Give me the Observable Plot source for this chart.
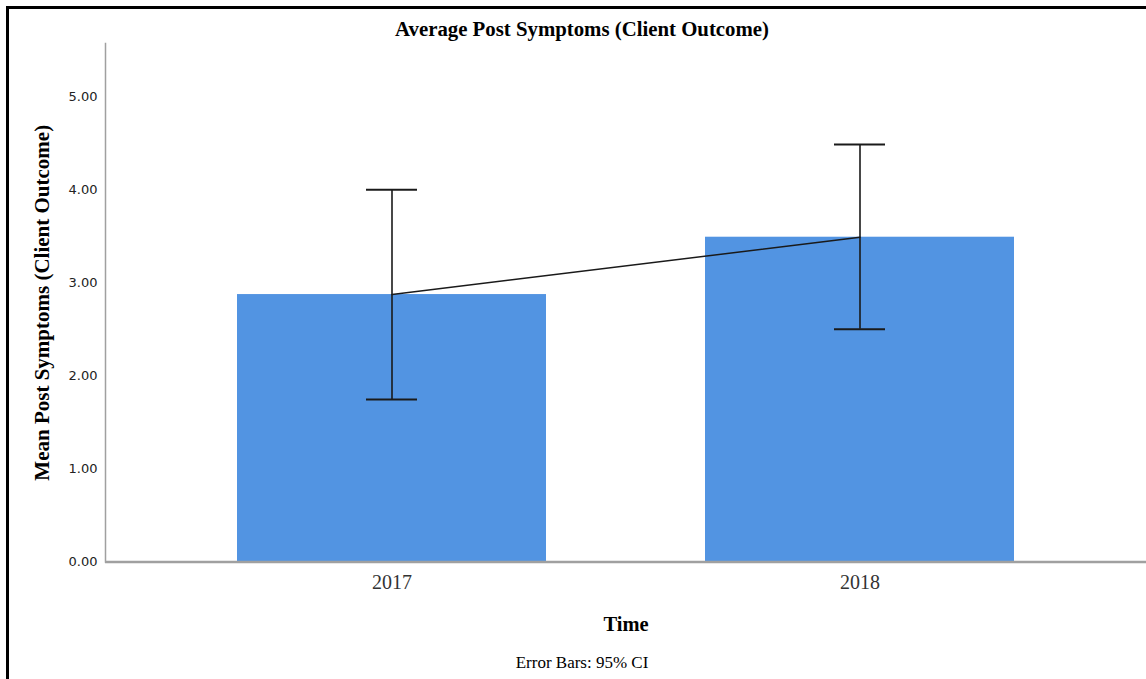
<!DOCTYPE html>
<html>
<head>
<meta charset="utf-8">
<script src="https://cdn.jsdelivr.net/npm/d3@7"></script>
<script src="https://cdn.jsdelivr.net/npm/@observablehq/plot@0.6"></script>
<style>
  html, body { margin: 0; padding: 0; background: #fff; overflow: hidden; }
  #wrap { position: relative; width: 1146px; height: 679px; }
  #wrap svg { position: absolute; left: 0; top: 0; }
  #border { position: absolute; left: 6px; top: 6px; width: 1300px; height: 800px;
            border-left: 3px solid #000; border-top: 3px solid #000; pointer-events: none; }
</style>
</head>
<body>
<div id="wrap"><div id="border"></div></div>
<script>
const years = ["2017", "2018"];
const means = [2.873, 3.489];
const ciLow = [1.745, 2.50];
const ciHigh = [4.00, 4.484];
const yTicks = [0, 1, 2, 3, 4, 5];
const title = "Average Post Symptoms (Client Outcome)";
const yLabel = "Mean Post Symptoms (Client Outcome)";
const xLabel = "Time";
const caption = "Error Bars: 95% CI";

const data = years.map((t, i) => ({time: t, mean: means[i], lo: ciLow[i], hi: ciHigh[i]}));

const serif = "'Liberation Serif', 'Times New Roman', serif";
const ink = "#1a1a1a";

const chart = Plot.plot({
  width: 1146,
  height: 679,
  marginLeft: 105,
  marginRight: 0,
  marginTop: 43,
  marginBottom: 117.5,
  style: {background: "transparent", overflow: "visible"},
  x: {domain: years, paddingInner: 0.34, paddingOuter: 0.281, label: null},
  y: {domain: [0, 5.57], label: null},
  marks: [
    Plot.barY(data, {x: "time", y: "mean", fill: "#5294e2"}),
    Plot.ruleY([0], {stroke: "#a0a0a0", strokeWidth: 2.5}),
    Plot.frame({anchor: "left", stroke: "#a0a0a0", strokeWidth: 1.5}),
    Plot.line(data, {x: "time", y: "mean", stroke: ink, strokeWidth: 1.5}),
    Plot.ruleX(data, {x: "time", y1: "lo", y2: "hi", stroke: ink, strokeWidth: 1.6}),
    Plot.tickY(data, {x: "time", y: "lo", insetLeft: 129, insetRight: 129, stroke: ink, strokeWidth: 2}),
    Plot.tickY(data, {x: "time", y: "hi", insetLeft: 129, insetRight: 129, stroke: ink, strokeWidth: 2}),
    Plot.axisY({ticks: yTicks, tickFormat: d => d.toFixed(2), tickSize: 0, tickPadding: 8,
      fontFamily: "'DejaVu Sans', sans-serif", fontSize: 13, fill: "#222", label: null}),
    Plot.axisX({tickSize: 0, tickPadding: 13, fontFamily: serif, fontSize: 20, fill: "#333", label: null}),
    Plot.text([yLabel], {frameAnchor: "left", textAnchor: "middle", lineAnchor: "middle", rotate: -90, dx: -63,
      fontFamily: serif, fontWeight: "bold", fontSize: 21, fill: "#000"}),
    Plot.text([title], {frameAnchor: "top", textAnchor: "middle", lineAnchor: "middle", dx: -44, dy: -14.6,
      fontFamily: serif, fontWeight: "bold", fontSize: 20.8, fill: "#000"}),
    Plot.text([xLabel], {frameAnchor: "bottom", textAnchor: "middle", lineAnchor: "middle", dy: 62.3,
      fontFamily: serif, fontWeight: "bold", fontSize: 20.5, fill: "#000"}),
    Plot.text([caption], {frameAnchor: "bottom", textAnchor: "middle", lineAnchor: "middle", dx: -44, dy: 100.3,
      fontFamily: serif, fontSize: 17, fill: "#000"})
  ]
});
document.getElementById("wrap").prepend(chart);
</script>
</body>
</html>
